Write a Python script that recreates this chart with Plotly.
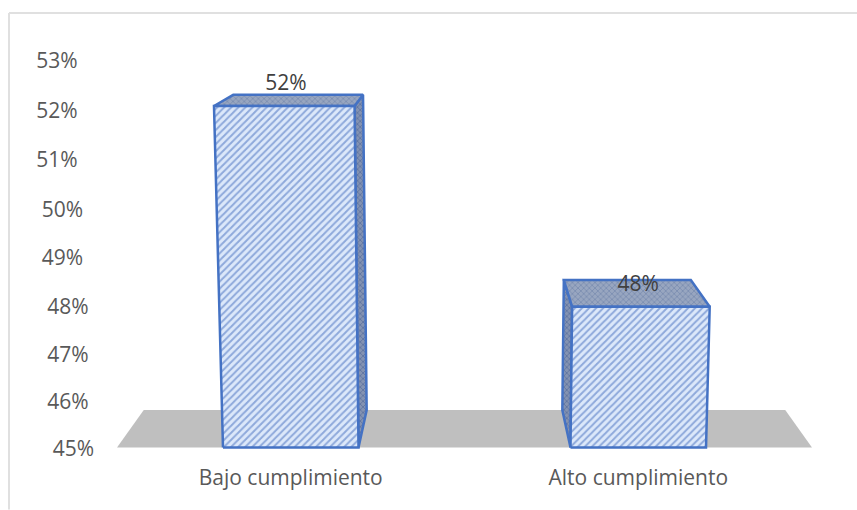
import plotly.graph_objects as go

# --- data ---
categories = ["Bajo cumplimiento", "Alto cumplimiento"]
values = [52.06, 47.96]
value_labels = ["52%", "48%"]
axis_ticks = [45, 46, 47, 48, 49, 50, 51, 52, 53]

# --- look ---
W, H = 857, 510
ML, MR, MT, MB = 117, 45, 59, 59.5
BAR_W = 0.39
K = 1.09e-4      # front-plane widening with height
DEPTH = 0.077    # depth toward the vanishing point
VANISH_H = 487
BLUE = "#4472C4"
FONT = "Open Sans"
FONT_SIZE = 21
TICK_COLOR = "#595959"
TICK_NUDGE = 1.5  # tick labels sit a little below their level


def height(v):
    """Value -> projected height on the (slightly perspective) vertical axis."""
    t = v - axis_ticks[0]
    return 47 * t + 0.2 * t * t


def front(x, h):
    return 0.5 + (x - 0.5) * (1 + K * h), h


def back(x, h):
    fx, fh = front(x, h)
    return fx + DEPTH * (0.5 - fx), fh + DEPTH * (VANISH_H - fh)


def poly(points, bg, fg, shape, size, solidity, line=True, name=""):
    xs = [p[0] for p in points] + [points[0][0]]
    ys = [p[1] for p in points] + [points[0][1]]
    return go.Scatter(
        x=xs, y=ys, mode="lines", fill="toself", name=name, showlegend=False,
        hoverinfo="skip",
        line=dict(color=BLUE, width=2.5) if line else dict(color="rgba(0,0,0,0)", width=0),
        fillcolor=bg,
        fillpattern=dict(shape=shape, bgcolor=bg, fgcolor=fg, size=size, solidity=solidity)
        if shape else None,
    )


fig = go.Figure()

# floor
fig.add_trace(go.Scatter(
    x=[front(-0.5, 0)[0], front(1.5, 0)[0], back(1.5, 0)[0], back(-0.5, 0)[0], front(-0.5, 0)[0]],
    y=[0, 0, back(1.5, 0)[1], back(-0.5, 0)[1], 0],
    mode="lines", fill="toself", fillcolor="#BFBFBF",
    line=dict(width=0, color="#BFBFBF"), hoverinfo="skip", showlegend=False,
))

for i, v in enumerate(values):
    h = height(v)
    l, r = i - BAR_W / 2, i + BAR_W / 2
    # visible side: the one facing the chart's centre
    sx = r if i < 0.5 else l
    fig.add_trace(poly([front(sx, 0), front(sx, h), back(sx, h), back(sx, 0)],
                       "#8493B2", "#3A5590", "x", 4, 0.4))
    fig.add_trace(poly([front(l, h), front(r, h), back(r, h), back(l, h)],
                       "#98A6C0", "#4A6496", "x", 4, 0.3))
    fig.add_trace(poly([front(l, 0), front(r, 0), front(r, h), front(l, h)],
                       "#DCE8FA", "#4069BC", "/", 5, 0.4, name=categories[i]))

# data labels
label_h = [height(values[0]) + 21, height(values[1]) + 21]
fig.add_trace(go.Scatter(
    x=[-0.0137, 1.0], y=label_h, text=value_labels,
    mode="text", textposition="middle center",
    textfont=dict(family=FONT, size=FONT_SIZE, color="#404040"),
    hoverinfo="skip", showlegend=False,
))

# frame
px = lambda p: (p - ML) / (W - ML - MR)
py = lambda p: 1 - (p - MT) / (H - MT - MB)
for x0, y0, x1, y1 in [(9, 13, W, 13), (9, 13, 9, H)]:
    fig.add_shape(type="line", xref="paper", yref="paper",
                  x0=px(x0), y0=py(y0), x1=px(x1), y1=py(y1),
                  line=dict(color="#E0E0E0", width=2), layer="above")

# the tick labels lean with the perspective: pad them more toward the top
pad = {45: 0, 46: 1, 47: 1, 48: 1, 49: 2, 50: 2, 51: 3, 52: 3, 53: 3}
fig.update_layout(
    width=W, height=H, autosize=False,
    margin=dict(l=ML, r=MR, t=MT, b=MB, pad=0),
    paper_bgcolor="white", plot_bgcolor="rgba(0,0,0,0)",
    showlegend=False,
    xaxis=dict(range=[-0.5, 1.5], tickvals=[0, 1], ticktext=categories,
               showgrid=False, zeroline=False, showline=False, ticks="",
               tickfont=dict(family=FONT, size=FONT_SIZE, color=TICK_COLOR),
               ticklabelstandoff=13, fixedrange=True),
    yaxis=dict(range=[height(45) - TICK_NUDGE - 1, height(53)],
               tickvals=[height(t) - TICK_NUDGE for t in axis_ticks],
               ticktext=[f"{t}%" + "\u00a0" * pad[t] for t in axis_ticks],
               showgrid=False, zeroline=False, showline=False, ticks="",
               tickfont=dict(family=FONT, size=FONT_SIZE, color=TICK_COLOR),
               ticklabelstandoff=22, fixedrange=True),
)

fig.write_html("out.html", post_script="document.body.style.margin='0';",
               config={"displayModeBar": False})
